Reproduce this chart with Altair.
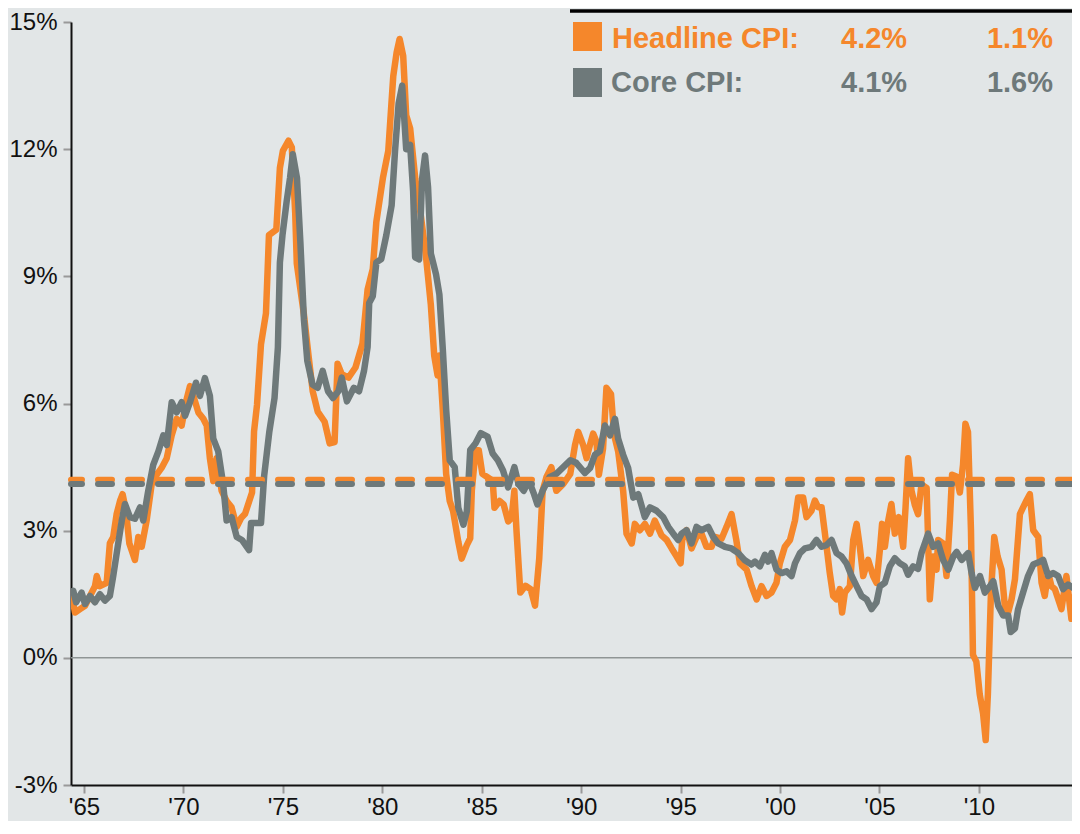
import altair as alt
import pandas as pd

# ---------------- data ----------------
head_years = [1964.38, 1964.55, 1964.8, 1965.05, 1965.3, 1965.55, 1965.64, 1965.8, 1966.14, 1966.3,
              1966.47, 1966.64, 1966.81, 1966.94, 1967.11, 1967.28, 1967.56, 1967.73, 1967.9, 1968.15,
              1968.4, 1968.65, 1968.9, 1969.16, 1969.41, 1969.66, 1969.91, 1970.16, 1970.33, 1970.5,
              1970.75, 1971.0, 1971.17, 1971.33, 1971.5, 1971.67, 1971.92, 1972.17, 1972.42, 1972.68,
              1972.9, 1973.1, 1973.45, 1973.55, 1973.7, 1973.9, 1974.15, 1974.3, 1974.67, 1974.85,
              1975.0, 1975.28, 1975.45, 1975.62, 1975.7, 1976.05, 1976.3, 1976.5, 1976.75, 1977.1,
              1977.35, 1977.6, 1977.75, 1977.96, 1978.3, 1978.65, 1979.0, 1979.26, 1979.52, 1979.7,
              1980.03, 1980.3, 1980.55, 1980.72, 1980.87, 1981.05, 1981.2, 1981.4, 1981.66, 1981.92,
              1982.18, 1982.44, 1982.61, 1982.78, 1982.87, 1983.04, 1983.21, 1983.39, 1983.56, 1983.82,
              1983.99, 1984.25, 1984.42, 1984.5, 1984.69, 1984.85, 1985.03, 1985.29, 1985.55, 1985.64,
              1985.9, 1986.1, 1986.33, 1986.5, 1986.64, 1986.75, 1986.94, 1987.2, 1987.46, 1987.68,
              1987.89, 1988.06, 1988.25, 1988.5, 1988.75, 1989.1, 1989.45, 1989.69, 1989.85, 1990.1,
              1990.27, 1990.44, 1990.6, 1990.77, 1990.89, 1991.1, 1991.27, 1991.5, 1991.66, 1991.86,
              1992.11, 1992.28, 1992.54, 1992.7, 1992.95, 1993.2, 1993.46, 1993.7, 1994.04, 1994.3,
              1994.55, 1994.8, 1995.0, 1995.08, 1995.3, 1995.55, 1995.8, 1996.05, 1996.3, 1996.56,
              1996.72, 1997.06, 1997.31, 1997.56, 1997.8, 1997.98, 1998.32, 1998.57, 1998.82, 1999.07,
              1999.32, 1999.57, 1999.82, 1999.99, 2000.24, 2000.5, 2000.75, 2000.91, 2001.16, 2001.33,
              2001.58, 2001.75, 2001.92, 2002.09, 2002.34, 2002.5, 2002.67, 2002.84, 2003.0, 2003.12,
              2003.26, 2003.51, 2003.68, 2003.85, 2004.01, 2004.18, 2004.43, 2004.68, 2004.85, 2005.02,
              2005.13, 2005.27, 2005.44, 2005.6, 2005.77, 2005.97, 2006.19, 2006.31, 2006.44, 2006.61,
              2006.78, 2006.94, 2007.11, 2007.37, 2007.53, 2007.7, 2007.87, 2007.95, 2008.2, 2008.37,
              2008.54, 2008.65, 2008.87, 2009.04, 2009.2, 2009.32, 2009.45, 2009.6, 2009.7, 2009.87,
              2010.04, 2010.21, 2010.34, 2010.45, 2010.6, 2010.77, 2010.94, 2011.14, 2011.3, 2011.47,
              2011.64, 2011.81, 2012.06, 2012.22, 2012.39, 2012.56, 2012.73, 2012.98, 2013.15, 2013.31,
              2013.48, 2013.65, 2013.82, 2014.15, 2014.4, 2014.65, 2014.82, 2015.08]
head_vals = [1.46, 1.07, 1.15, 1.23, 1.46, 1.69, 1.93, 1.69, 1.77, 2.7,
             2.85, 3.39, 3.7, 3.86, 3.47, 2.7, 2.31, 2.85, 2.62, 3.24,
             4.09, 4.32, 4.48, 4.71, 5.25, 5.64, 5.48, 6.1, 6.41, 6.18,
             5.79, 5.64, 5.48, 4.71, 4.17, 4.71, 3.94, 3.7, 3.55, 3.09,
             3.3, 3.4, 3.9, 5.34, 5.97, 7.4, 8.13, 9.97, 10.1, 11.56,
             11.96, 12.2, 12.04, 10.5, 9.3, 8.13, 7.09, 6.29, 5.81, 5.57,
             5.06, 5.09, 6.94, 6.69, 6.61, 6.85, 7.41, 8.69, 9.17, 10.29,
             11.32, 11.96, 13.72, 14.28, 14.6, 14.2, 12.8, 12.49, 11.29, 10.49,
             9.54, 8.33, 7.13, 6.66, 7.13, 5.86, 4.34, 3.7, 3.46, 2.74,
             2.34, 2.66, 2.82, 3.94, 4.9, 4.9, 4.34, 4.26, 4.18, 3.54,
             3.7, 3.62, 3.22, 3.3, 3.94, 2.98, 1.54, 1.7, 1.62, 1.23,
             2.34, 3.94, 4.26, 4.5, 3.94, 4.1, 4.34, 5.02, 5.33, 5.02,
             4.71, 5.02, 5.29, 5.1, 4.32, 4.94, 6.37, 6.22, 5.25, 4.87,
             3.94, 2.93, 2.7, 3.16, 3.01, 3.16, 2.93, 3.24, 2.89, 2.78,
             2.58, 2.39, 2.23, 2.78, 3.01, 2.58, 2.85, 2.93, 2.62, 2.62,
             2.85, 2.81, 3.09, 3.39, 2.78, 2.23, 2.08, 1.69, 1.38, 1.69,
             1.46, 1.54, 1.77, 2.23, 2.62, 2.78, 3.24, 3.78, 3.78, 3.32,
             3.47, 3.71, 3.55, 3.55, 2.62, 2.0, 1.46, 1.38, 1.62, 1.07,
             1.54, 1.69, 2.78, 3.16, 2.62, 1.93, 2.31, 1.93, 1.77, 2.55,
             3.16, 2.62, 3.24, 3.63, 2.93, 3.32, 2.62, 3.55, 4.71, 3.94,
             3.6, 3.39, 4.09, 4.01, 1.38, 2.39, 2.08, 2.78, 2.7, 1.93,
             3.24, 4.32, 4.28, 3.9, 4.55, 5.52, 5.33, 3.01, 0.07, -0.09,
             -0.86, -1.32, -1.94, -0.86, 1.46, 2.85, 2.39, 2.08, 1.23, 1.07,
             1.38, 1.85, 3.39, 3.55, 3.71, 3.86, 3.01, 2.85, 1.77, 1.46,
             2.0, 1.69, 1.62, 1.15, 1.93, 0.92, 1.46, 1.23]

core_years = [1964.46, 1964.6, 1964.88, 1965.05, 1965.3, 1965.55, 1965.8, 1966.05, 1966.3, 1966.47,
              1966.72, 1966.9, 1967.06, 1967.31, 1967.56, 1967.82, 1967.98, 1968.23, 1968.48, 1968.74,
              1968.99, 1969.16, 1969.41, 1969.66, 1969.91, 1970.08, 1970.33, 1970.63, 1970.83, 1971.08,
              1971.33, 1971.5, 1971.75, 1972.0, 1972.17, 1972.42, 1972.68, 1972.94, 1973.3, 1973.4,
              1973.9, 1974.06, 1974.32, 1974.58, 1974.75, 1974.85, 1974.98, 1975.19, 1975.36, 1975.5,
              1975.71, 1975.88, 1976.06, 1976.23, 1976.49, 1976.75, 1977.0, 1977.27, 1977.52, 1977.79,
              1977.96, 1978.22, 1978.57, 1978.83, 1979.08, 1979.26, 1979.34, 1979.52, 1979.7, 1979.95,
              1980.2, 1980.47, 1980.64, 1980.82, 1981.0, 1981.2, 1981.4, 1981.55, 1981.65, 1981.85,
              1982.0, 1982.15, 1982.3, 1982.44, 1982.7, 1982.87, 1983.04, 1983.21, 1983.39, 1983.64,
              1983.82, 1984.08, 1984.25, 1984.42, 1984.69, 1984.95, 1985.29, 1985.55, 1985.81, 1986.07,
              1986.33, 1986.64, 1986.85, 1987.11, 1987.37, 1987.63, 1987.8, 1988.06, 1988.41, 1988.75,
              1989.1, 1989.45, 1989.75, 1990.19, 1990.45, 1990.69, 1990.94, 1991.19, 1991.45, 1991.7,
              1991.86, 1992.11, 1992.36, 1992.62, 1992.87, 1993.2, 1993.46, 1993.79, 1994.12, 1994.38,
              1994.63, 1994.88, 1995.05, 1995.3, 1995.55, 1995.8, 1996.05, 1996.39, 1996.64, 1996.89,
              1997.23, 1997.56, 1997.9, 1998.23, 1998.56, 1998.74, 1998.99, 1999.24, 1999.4, 1999.57,
              1999.82, 2000.07, 2000.33, 2000.58, 2000.75, 2001.0, 2001.25, 2001.58, 2001.83, 2002.09,
              2002.34, 2002.59, 2002.84, 2003.09, 2003.34, 2003.6, 2003.85, 2004.1, 2004.35, 2004.6,
              2004.85, 2005.02, 2005.27, 2005.52, 2005.77, 2006.02, 2006.27, 2006.44, 2006.69, 2006.94,
              2007.11, 2007.45, 2007.7, 2007.95, 2008.2, 2008.46, 2008.71, 2008.88, 2009.13, 2009.46,
              2009.63, 2009.8, 2010.05, 2010.3, 2010.55, 2010.72, 2010.97, 2011.22, 2011.47, 2011.6,
              2011.81, 2011.97, 2012.22, 2012.47, 2012.73, 2013.07, 2013.23, 2013.48, 2013.73, 2013.98,
              2014.23, 2014.48, 2014.73, 2015.08]
core_vals = [1.58, 1.31, 1.54, 1.27, 1.46, 1.31, 1.5, 1.35, 1.46, 1.93,
             2.7, 3.24, 3.63, 3.32, 3.28, 3.55, 3.24, 3.94, 4.55, 4.87,
             5.25, 5.02, 6.03, 5.79, 6.03, 5.71, 6.03, 6.49, 6.18, 6.6,
             6.18, 5.17, 4.87, 4.09, 3.24, 3.32, 2.85, 2.78, 2.54, 3.18,
             3.18, 4.3, 5.34, 6.13, 7.33, 9.33, 9.97, 10.77, 11.32, 11.88,
             11.32, 9.8, 7.97, 7.0, 6.45, 6.37, 6.77, 6.29, 6.13, 6.29,
             6.61, 6.05, 6.37, 6.29, 6.77, 7.33, 8.37, 8.53, 9.33, 9.41,
             9.97, 10.68, 11.96, 13.08, 13.5, 12.0, 12.1, 11.0, 9.45, 9.4,
             11.3, 11.85, 11.1, 9.54, 9.05, 8.57, 7.29, 5.86, 4.66, 4.5,
             3.54, 3.14, 3.46, 4.9, 5.06, 5.3, 5.22, 4.82, 4.66, 4.42,
             4.02, 4.5, 4.1, 3.94, 4.18, 3.86, 3.62, 3.94, 4.26, 4.34,
             4.5, 4.66, 4.6, 4.36, 4.48, 4.79, 4.87, 5.48, 5.25, 5.64,
             5.17, 4.79, 4.48, 3.78, 3.86, 3.32, 3.55, 3.47, 3.32, 3.09,
             2.93, 2.78, 2.93, 3.01, 2.7, 3.09, 3.01, 3.09, 2.85, 2.7,
             2.62, 2.58, 2.47, 2.3, 2.2, 2.27, 2.16, 2.43, 2.27, 2.47,
             2.08, 2.0, 2.04, 1.93, 2.23, 2.47, 2.58, 2.62, 2.78, 2.62,
             2.66, 2.78, 2.47, 2.39, 2.23, 1.93, 1.69, 1.46, 1.38, 1.15,
             1.31, 1.69, 1.77, 2.16, 2.35, 2.23, 2.16, 1.96, 2.16, 2.1,
             2.47, 2.93, 2.62, 2.7, 2.31, 2.08, 2.39, 2.5, 2.31, 2.47,
             2.0, 1.65, 1.93, 1.54, 1.69, 1.81, 1.23, 1.0, 1.0, 0.61,
             0.69, 1.15, 1.54, 1.93, 2.2, 2.27, 2.31, 1.93, 2.0, 1.93,
             1.62, 1.73, 1.65, 1.54]

series_names = ["Headline CPI:", "Core CPI:"]
avg_vals = [4.2, 4.1]
avg_labels = ["4.2%", "4.1%"]
latest_labels = ["1.1%", "1.6%"]
x_ticks = [1965, 1970, 1975, 1980, 1985, 1990, 1995, 2000, 2005, 2010]
y_ticks = [-3, 0, 3, 6, 9, 12, 15]

# ---------------- styles ----------------
ORANGE = "#f5872b"
GRAY = "#6e797a"
BG = "#e2e6e7"
FONT = "Liberation Sans"
W, H = 1001, 763

head_df = pd.DataFrame({"year": head_years, "value": head_vals})
core_df = pd.DataFrame({"year": core_years, "value": core_vals})

xscale = alt.Scale(domain=[1964.346, 2014.68], nice=False, zero=False)
yscale = alt.Scale(domain=[-3, 15], nice=False, zero=False)

xaxis = alt.Axis(values=x_ticks, labelExpr="\"'\" + substring(toString(datum.value), 2)",
                 title=None, grid=False, labelFontSize=24, labelFont=FONT, labelColor="#111111",
                 tickColor="#999999", tickWidth=2, tickSize=8, domainColor="#111111", domainWidth=2,
                 labelPadding=2, labelFlush=False)
yaxis = alt.Axis(values=y_ticks, labelExpr="datum.value + '%'", title=None, grid=False,
                 labelFontSize=24, labelFont=FONT, labelColor="#111111",
                 tickColor="#999999", tickWidth=2, tickSize=8, domainColor="#111111", domainWidth=2,
                 labelPadding=6, labelFlush=False)

zero = alt.Chart(pd.DataFrame({"v": [0]})).mark_rule(color="#8f9595", strokeWidth=1.5).encode(
    y=alt.Y("v:Q", scale=yscale, axis=yaxis))

head_line = alt.Chart(head_df).mark_line(color=ORANGE, strokeWidth=6.5, strokeJoin="round",
                                         strokeCap="round", clip=True).encode(
    x=alt.X("year:Q", scale=xscale, axis=xaxis),
    y=alt.Y("value:Q", scale=yscale, axis=yaxis))
core_line = alt.Chart(core_df).mark_line(color=GRAY, strokeWidth=6.5, strokeJoin="round",
                                         strokeCap="round", clip=True).encode(
    x=alt.X("year:Q", scale=xscale, axis=xaxis),
    y=alt.Y("value:Q", scale=yscale, axis=yaxis))

avg_head = alt.Chart(pd.DataFrame({"v": [avg_vals[0]]})).mark_rule(
    color=ORANGE, strokeWidth=6, strokeDash=[14, 16], strokeCap="round").encode(
    y=alt.Y("v:Q", scale=yscale))
avg_core = alt.Chart(pd.DataFrame({"v": [avg_vals[1]]})).mark_rule(
    color=GRAY, strokeWidth=6, strokeDash=[14, 16], strokeCap="round").encode(
    y=alt.Y("v:Q", scale=yscale))

# legend box (top right)
top_rule = alt.Chart(pd.DataFrame({"a": [0]})).mark_rule(color="#000000", strokeWidth=3.5).encode(
    x=alt.value(499), x2=alt.value(W), y=alt.value(-11))
sq_head = alt.Chart(pd.DataFrame({"a": [0]})).mark_rect(color=ORANGE).encode(
    x=alt.value(502), x2=alt.value(531), y=alt.value(0), y2=alt.value(29))
sq_core = alt.Chart(pd.DataFrame({"a": [0]})).mark_rect(color=GRAY).encode(
    x=alt.value(502), x2=alt.value(531), y=alt.value(46), y2=alt.value(75))


def txt(s, x, y, color, align):
    return alt.Chart(pd.DataFrame({"t": [s]})).mark_text(
        font=FONT, fontSize=29, fontWeight="bold", color=color, align=align,
        baseline="alphabetic").encode(text="t:N", x=alt.value(x), y=alt.value(y))


legend = [
    txt(series_names[0], 541, 26, ORANGE, "left"),
    txt(avg_labels[0], 770, 26, ORANGE, "left"),
    txt(latest_labels[0], 982, 26, ORANGE, "right"),
    txt(series_names[1], 540, 70, GRAY, "left"),
    txt(avg_labels[1], 770, 70, GRAY, "left"),
    txt(latest_labels[1], 982, 70, GRAY, "right"),
]

chart = alt.layer(zero, head_line, core_line, avg_head, avg_core, top_rule, sq_head, sq_core,
                  *legend).properties(
    width=W, height=H,
    padding={"left": 63, "top": 14, "right": 0, "bottom": 36},
    autosize=alt.AutoSizeParams(type="none"),
    background=BG,
).configure_view(stroke=None, fill=BG)

chart.save("out.html", embed_options={"renderer": "svg", "actions": False})
